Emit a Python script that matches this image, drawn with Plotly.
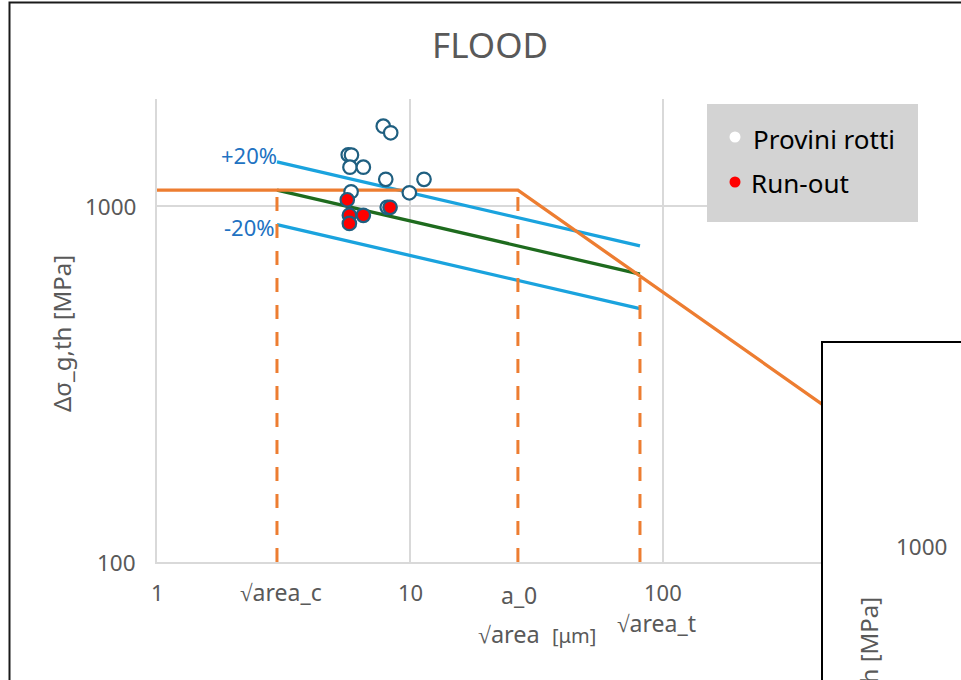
import numpy as np
import plotly.graph_objects as go

# ---------------- data ----------------
sigma_plateau = 1109.0          # horizontal threshold [MPa]
a_0 = 26.7                      # El Haddad length
sqrt_area_c = 2.98
sqrt_area_t = 81.1

el_haddad_x = [1.0, a_0, 1000.0]
el_haddad_y = [sigma_plateau, sigma_plateau, 181.0]

murakami_x = [sqrt_area_c, sqrt_area_t]
murakami_y = [1109.0, 644.0]
plus20_y = [1331.0, 773.0]
minus20_y = [887.0, 515.0]

dashed_x = [sqrt_area_c, a_0, sqrt_area_t]
dashed_top = [1109.0, 1109.0, 644.0]

broken_x = [7.84, 8.39, 5.70, 5.87, 5.79, 6.54, 8.02, 11.36, 5.85, 9.94, 8.13]
broken_y = [1678, 1607, 1394, 1391, 1287, 1287, 1189, 1189, 1097, 1090, 992]

runout_x = [5.65, 8.34, 5.76, 6.54, 5.76]
runout_y = [1042, 992, 943, 942, 894]

x_tick_vals = [1, 10, 100]
x_tick_text = ["1", "10", "100"]
x_special_text = ["√area_c", "a_0", "√area_t"]
y_tick_vals = [100, 1000]
y_tick_text = ["100", "1000"]

title_text = "FLOOD"
x_title = "√area"
x_unit = "[μm]"
y_title = "Δσ_g,th [MPa]"
legend_labels = ["Provini rotti", "Run-out"]

# ---------------- layout geometry ----------------
W, H = 961, 680
L, R, T, B = 157, 45, 99, 118
PW, PH = W - L - R, H - T - B


def px_x(p):
    return (p - L) / PW


def px_y(p):
    return (H - B - p) / PH


FONT = "Noto Sans"
GRAY = "#595959"
ORANGE = "#ED7D31"
LBLUE = "#1AA3DE"
GREEN = "#1E6B1E"
EDGE = "#1F5F80"
TBLUE = "#2172C2"

fig = go.Figure()

fig.add_trace(go.Scatter(x=murakami_x, y=plus20_y, mode="lines",
                         line=dict(color=LBLUE, width=3.3), showlegend=False))
fig.add_trace(go.Scatter(x=murakami_x, y=minus20_y, mode="lines",
                         line=dict(color=LBLUE, width=3.3), showlegend=False))
fig.add_trace(go.Scatter(x=murakami_x, y=murakami_y, mode="lines",
                         line=dict(color=GREEN, width=3.3), showlegend=False))
fig.add_trace(go.Scatter(x=el_haddad_x, y=el_haddad_y, mode="lines",
                         line=dict(color=ORANGE, width=3.3), showlegend=False))
for xv, yt in zip(dashed_x, dashed_top):
    fig.add_trace(go.Scatter(x=[xv, xv], y=[100, yt], mode="lines",
                             line=dict(color=ORANGE, width=3, dash="14px,13px"),
                             showlegend=False))

fig.add_trace(go.Scatter(x=broken_x, y=broken_y, mode="markers",
                         marker=dict(size=13.5, color="white",
                                     line=dict(color=EDGE, width=2.2)),
                         showlegend=False))
fig.add_trace(go.Scatter(x=runout_x, y=runout_y, mode="markers",
                         marker=dict(size=13.5, color="#FF0000",
                                     line=dict(color=EDGE, width=2.2)),
                         showlegend=False))


def note(text, x, y, size, color=GRAY, xref="paper", yref="paper", **kw):
    d = dict(text=text, x=x, y=y, xref=xref, yref=yref, showarrow=False,
             xanchor="center", yanchor="middle",
             font=dict(family=FONT, size=size, color=color))
    d.update(kw)
    return d


ann = []
ann.append(note(title_text, px_x(490), px_y(45), 35))
for v, t in zip(x_tick_vals, x_tick_text):
    ann.append(note(t, np.log10(v), px_y(592), 22, xref="x"))
special_shift = [4, 1, 17]
special_y = [592, 595, 623]
for v, t, s, yy in zip(dashed_x, x_special_text, special_shift, special_y):
    ann.append(note(t, np.log10(v), px_y(yy), 23, xref="x", xshift=s))
ann.append(note(x_title + "  <span style='font-size:20px'>" + x_unit + "</span>",
                px_x(537), px_y(634), 23.5))
for v, t in zip(y_tick_vals, y_tick_text):
    ann.append(note(t, px_x(138), np.log10(v), 22.5, yref="y", xanchor="right"))
ann.append(note(y_title, px_x(61), px_y(334), 24, textangle=-90))
ann.append(note("+20%", px_x(249), px_y(155), 22, color=TBLUE))
ann.append(note("-20%", px_x(249), px_y(226.5), 22, color=TBLUE))
# legend texts
ann.append(note(legend_labels[0], px_x(751), px_y(139), 26, color="black", xanchor="left"))
ann.append(note(legend_labels[1], px_x(749), px_y(183), 26, color="black", xanchor="left"))
# overlapping second chart fragment (partly hidden by the page edge, as in the original)
ann.append(note("1000", px_x(921), px_y(546), 22.5))
ann.append(note(y_title, px_x(868), px_y(676), 24, textangle=-90))

shapes = []
# legend box
shapes.append(dict(type="rect", xref="paper", yref="paper", layer="above",
                   x0=px_x(707), x1=px_x(918), y0=px_y(222), y1=px_y(104),
                   fillcolor="#D3D3D3", line=dict(width=0)))
for cy, col in [(137, "white"), (182, "#FF0000")]:
    shapes.append(dict(type="circle", xref="paper", yref="paper", layer="above",
                       x0=px_x(729.5), x1=px_x(740.5), y0=px_y(cy + 5.5), y1=px_y(cy - 5.5),
                       fillcolor=col, line=dict(width=0)))
# overlapping chart box
shapes.append(dict(type="rect", xref="paper", yref="paper", layer="above",
                   x0=px_x(822), x1=px_x(1000), y0=px_y(720), y1=px_y(342),
                   fillcolor="white", line=dict(color="black", width=2)))
# outer page border
shapes.append(dict(type="rect", xref="paper", yref="paper", layer="above",
                   x0=px_x(9.5), x1=px_x(1000), y0=px_y(720), y1=px_y(2.5),
                   fillcolor="rgba(0,0,0,0)", line=dict(color="#1a1a1a", width=2)))

fig.update_layout(
    width=W, height=H,
    margin=dict(l=L, r=R, t=T, b=B, pad=0),
    paper_bgcolor="white", plot_bgcolor="white",
    showlegend=False,
    annotations=ann, shapes=shapes,
    xaxis=dict(type="log", range=[0, 3], tickvals=[1, 10, 100, 1000],
               showticklabels=False, ticks="", showgrid=True, gridcolor="#D9D9D9",
               gridwidth=1.5, showline=True, linecolor="#D9D9D9", linewidth=1.5,
               zeroline=False),
    yaxis=dict(type="log", range=[2, np.log10(2000)], tickvals=y_tick_vals,
               showticklabels=False, ticks="", showgrid=True, gridcolor="#D9D9D9",
               gridwidth=1.5, showline=True, linecolor="#D9D9D9", linewidth=1.5,
               zeroline=False),
)

fig.write_html("out.html")
